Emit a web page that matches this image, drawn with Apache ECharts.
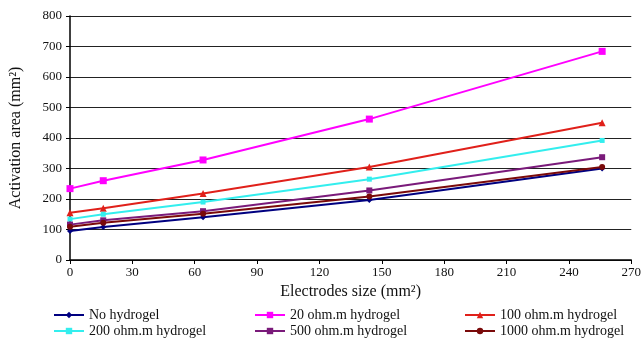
<!DOCTYPE html>
<html>
<head>
<meta charset="utf-8">
<script src="https://cdn.jsdelivr.net/npm/echarts@6/dist/echarts.min.js"></script>
<style>
  html, body { margin: 0; padding: 0; background: #fff; }
  #chart { width: 644px; height: 342px; }
</style>
</head>
<body>
<div id="chart"></div>
<script>
// electrode sizes (mm2)
var sizes = [0, 16, 64, 144, 256];
var noGel = [95, 108, 140, 197, 300];
var gel20 = [234, 260, 328, 462, 684];
var gel100 = [155, 170, 218, 305, 450];
var gel200 = [134, 150, 190, 265, 392];
var gel500 = [116, 130, 160, 228, 337];
var gel1000 = [109, 122, 152, 208, 305];

var font = 'Liberation Serif';

function pairs(vals) {
    return sizes.map(function (s, i) { return [s, vals[i]]; });
}

function line(name, vals, color, symbol, size) {
    return {
        name: name,
        type: 'line',
        data: pairs(vals),
        symbol: symbol,
        symbolSize: size,
        lineStyle: {color: color, width: 2},
        itemStyle: {color: color},
        animation: false
    };
}

var myChart = echarts.init(document.getElementById('chart'));
var legendBase = {
    orient: 'vertical',
    top: 308,
    height: 34,
    itemWidth: 30,
    itemHeight: 8,
    itemGap: 2,
    padding: 0,
    textStyle: {fontFamily: font, fontSize: 14, color: '#111'}
};
option = {
    backgroundColor: '#fff',
    grid: {left: 68, right: 11, top: 16, bottom: 82},
    legend: [
        Object.assign({left: 53, data: ['No hydrogel', '200 ohm.m hydrogel']}, legendBase),
        Object.assign({left: 254, data: ['20 ohm.m hydrogel', '500 ohm.m hydrogel']}, legendBase),
        Object.assign({left: 464, data: ['100 ohm.m hydrogel', '1000 ohm.m hydrogel']}, legendBase)
    ],
    xAxis: {
        type: 'value',
        min: 0,
        max: 270,
        interval: 30,
        name: 'Electrodes size (mm\u00b2)',
        nameLocation: 'middle',
        nameGap: 22,
        nameTextStyle: {fontFamily: font, fontSize: 16, color: '#111'},
        axisLine: {lineStyle: {color: '#000', width: 1.5}},
        axisTick: {show: true, length: 4, lineStyle: {color: '#000'}},
        axisLabel: {fontFamily: font, fontSize: 13, color: '#111', margin: 6},
        splitLine: {show: false}
    },
    yAxis: {
        type: 'value',
        min: 0,
        max: 800,
        interval: 100,
        name: 'Activation area (mm\u00b2)',
        nameLocation: 'middle',
        nameGap: 46,
        nameTextStyle: {fontFamily: font, fontSize: 16, color: '#111'},
        axisLine: {show: true, lineStyle: {color: '#000', width: 1.5}},
        axisTick: {show: true, length: 4, lineStyle: {color: '#000'}},
        axisLabel: {fontFamily: font, fontSize: 13, color: '#111', margin: 8},
        splitLine: {lineStyle: {color: '#222', width: 1.2}}
    },
    series: [
        line('No hydrogel', noGel, '#000080', 'diamond', 6),
        line('20 ohm.m hydrogel', gel20, '#ff00ff', 'rect', 7),
        line('100 ohm.m hydrogel', gel100, '#e0201a', 'triangle', 7),
        line('200 ohm.m hydrogel', gel200, '#33eeee', 'rect', 5),
        line('500 ohm.m hydrogel', gel500, '#7a1a7a', 'rect', 6),
        line('1000 ohm.m hydrogel', gel1000, '#7a0a0a', 'circle', 6)
    ]
};
myChart.setOption(option);
</script>
</body>
</html>
